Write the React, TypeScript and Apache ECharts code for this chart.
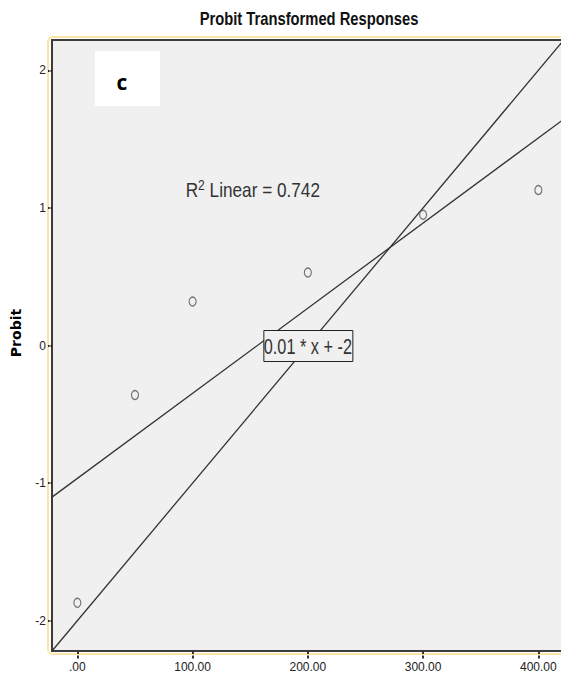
import React, { useEffect, useRef } from "react";
import * as echarts from "echarts";

// ---- data ----
const doseValues = [0, 50, 100, 200, 300, 400];
const probitValues = [-1.87, -0.36, 0.32, 0.53, 0.95, 1.13];
const xTickValues = [0, 100, 200, 300, 400];
const yTickValues = [-2, -1, 0, 1, 2];
const modelSlope = 0.01;
const modelIntercept = -2;
const rSquaredText = "0.742";
const rSquaredAnchor = [94, 1.13];
const modelLabelText = "0.01 * x + -2";
const modelLabelPoint = [200, 0];
const panelLetter = "c";
const titleText = "Probit Transformed Responses";
const yName = "Probit";

const X_MIN = -22;
const X_MAX = 437;
const Y_MIN = -2.22;
const Y_MAX = 2.22;

const SANS = "'Liberation Sans', Arial, sans-serif";

function leastSquares(xs: number[], ys: number[]) {
  const n = xs.length;
  const mx = xs.reduce((a, b) => a + b, 0) / n;
  const my = ys.reduce((a, b) => a + b, 0) / n;
  let sxy = 0, sxx = 0;
  for (let i = 0; i < n; i++) {
    sxy += (xs[i] - mx) * (ys[i] - my);
    sxx += (xs[i] - mx) * (xs[i] - mx);
  }
  const slope = sxy / sxx;
  return { slope, intercept: my - slope * mx };
}

export default function App() {
  const ref = useRef<HTMLDivElement>(null);
  useEffect(() => {
    if (!ref.current) return;
    const chart = echarts.init(ref.current, null, { renderer: "svg" });
    const fit = leastSquares(doseValues, probitValues);
    const fitLine = [X_MIN, X_MAX].map((x) => [x, fit.intercept + fit.slope * x]);
    const modelLine = [X_MIN, X_MAX].map((x) => [x, modelIntercept + modelSlope * x]);
    const points = doseValues.map((x, i) => [x, probitValues[i]]);

    chart.setOption({
      animation: false,
      backgroundColor: "#ffffff",
      grid: {
        left: 52,
        top: 40,
        right: 0,
        bottom: 33,
        show: true,
        backgroundColor: "#f0f0f0",
        borderColor: "#3c3c3c",
        borderWidth: 2,
      },
      xAxis: {
        type: "value",
        min: X_MIN,
        max: X_MAX,
        splitLine: { show: false },
        axisLine: { show: true, onZero: false, lineStyle: { color: "#3c3c3c", width: 2 } },
        axisTick: {
          show: true,
          customValues: xTickValues,
          length: 8,
          lineStyle: { color: "#333", width: 2, type: [3, 1.5] },
        },
        axisLabel: {
          customValues: xTickValues,
          margin: 10,
          fontFamily: SANS,
          fontSize: 12,
          color: "#222",
          formatter: (v: number) => (v === 0 ? ".00" : v.toFixed(2)),
        },
      },
      yAxis: {
        type: "value",
        min: Y_MIN,
        max: Y_MAX,
        splitLine: { show: false },
        axisLine: { show: true, onZero: false, lineStyle: { color: "#3c3c3c", width: 2 } },
        axisTick: {
          show: true,
          customValues: yTickValues,
          length: 5,
          lineStyle: { color: "#222", width: 2, type: [1.5, 1] },
        },
        axisLabel: {
          customValues: yTickValues,
          margin: 6,
          fontFamily: SANS,
          fontSize: 12,
          color: "#222",
        },
      },
      series: [
        {
          type: "line",
          data: fitLine,
          symbol: "none",
          silent: true,
          lineStyle: { color: "#333", width: 1.3 },
          z: 2,
        },
        {
          type: "line",
          data: modelLine,
          symbol: "none",
          silent: true,
          clip: true,
          lineStyle: { color: "#333", width: 1.3 },
          z: 2,
        },
        {
          type: "scatter",
          data: points,
          symbol: "circle",
          symbolSize: [7, 9],
          itemStyle: { color: "#f0f0f0", borderColor: "#555", borderWidth: 1.3 },
          z: 3,
        },
      ],
    });

    const tl = chart.convertToPixel({ gridIndex: 0 }, [X_MIN, Y_MAX]) as number[];
    const bl = chart.convertToPixel({ gridIndex: 0 }, [X_MIN, Y_MIN]) as number[];
    const lp = chart.convertToPixel({ gridIndex: 0 }, modelLabelPoint) as number[];
    const rp = chart.convertToPixel({ gridIndex: 0 }, rSquaredAnchor) as number[];

    chart.setOption({
      graphic: [
        {
          type: "rect",
          shape: { x: tl[0] - 4, y: tl[1] - 3, width: 600, height: bl[1] - tl[1] + 6, r: 5 },
          style: { fill: "none", stroke: "#fbe5a6", lineWidth: 2 },
          z: 0,
          silent: true,
        },
        {
          type: "text",
          x: 309,
          y: 18,
          scaleX: 0.82,
          style: {
            text: titleText,
            fontFamily: SANS,
            fontWeight: "bold",
            fontSize: 18,
            fill: "#111",
            textAlign: "center",
            textVerticalAlign: "middle",
          },
        },
        {
          type: "rect",
          shape: { x: 95, y: 51, width: 65, height: 55 },
          style: { fill: "#ffffff" },
          z: 10,
        },
        {
          type: "text",
          x: 122,
          y: 82,
          style: {
            text: panelLetter,
            fontFamily: "'Open Sans', sans-serif",
            fontWeight: "bold",
            fontSize: 21,
            fill: "#000",
            textAlign: "center",
            textVerticalAlign: "middle",
          },
          z: 11,
        },
        {
          type: "text",
          x: 16,
          y: 333,
          rotation: Math.PI / 2,
          style: {
            text: yName,
            fontFamily: "'DejaVu Sans', sans-serif",
            fontWeight: "bold",
            fontSize: 14,
            fill: "#000",
            textAlign: "center",
            textVerticalAlign: "middle",
          },
        },
        {
          type: "text",
          x: rp[0],
          y: rp[1],
          scaleX: 0.86,
          z: 10,
          style: {
            text: "R{sup|2} Linear = " + rSquaredText,
            rich: {
              sup: { fontSize: 14, verticalAlign: "top", padding: [0, 0, 10, 0], fontFamily: SANS, fill: "#333" },
            },
            fontFamily: SANS,
            fontSize: 20,
            fill: "#333",
            textVerticalAlign: "middle",
          },
        },
        {
          type: "rect",
          z: 20,
          shape: { x: lp[0] - 44, y: lp[1] - 15, width: 89, height: 31 },
          style: { fill: "#f0f0f0", stroke: "#222", lineWidth: 1 },
        },
        {
          type: "text",
          z: 21,
          x: lp[0],
          y: lp[1] + 1,
          scaleX: 0.74,
          style: {
            text: modelLabelText,
            fontFamily: SANS,
            fontSize: 22,
            fill: "#333",
            textAlign: "center",
            textVerticalAlign: "middle",
          },
        },
      ],
    });
    return () => chart.dispose();
  }, []);
  return (
    <div style={{ position: "fixed", left: 0, top: 0, width: 561, height: 684, overflow: "hidden" }}>
      <div ref={ref} style={{ width: 581, height: 684 }} />
    </div>
  );
}
